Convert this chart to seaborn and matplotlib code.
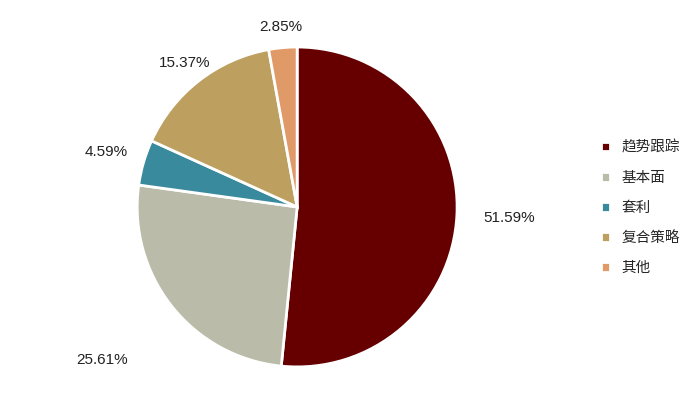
import numpy as np
import matplotlib
matplotlib.use("Agg")
import matplotlib.pyplot as plt
import seaborn as sns

sns.set_style("white")
plt.rcParams['font.family'] = ['Liberation Sans', 'Noto Sans CJK SC', 'DejaVu Sans']

categories = ["趋势跟踪", "基本面", "套利", "复合策略", "其他"]
shares = [51.59, 25.61, 4.59, 15.37, 2.85]
colors = ["#660000", "#BBBBA9", "#3A8A9E", "#BDA060", "#E09A68"]
label_dist = [1.33, 1.55, 1.24, 1.14, 1.13]

fig = plt.figure(figsize=(7, 4.16), dpi=100)
ax = fig.add_axes([0.196, 0.118, 0.457, 0.769])
wedges, _ = ax.pie(shares, colors=colors, startangle=90, counterclock=False,
                   wedgeprops=dict(edgecolor="white", linewidth=2))
ax.set_xlim(-1, 1)
ax.set_ylim(-1, 1)
ax.set_aspect("equal")
ax.axis("off")

for w, v, d in zip(wedges, shares, label_dist):
    ang = np.deg2rad((w.theta1 + w.theta2) / 2)
    ax.text(d * np.cos(ang), d * np.sin(ang), f"{v:.2f}%", ha="center", va="center",
            fontsize=11, color="#222222", clip_on=False)

fig.legend(wedges, categories, loc="center left", bbox_to_anchor=(0.84, 0.5),
           frameon=False, fontsize=10.5, handlelength=0.6, handleheight=0.6,
           labelspacing=1.1)

plt.savefig("out.png", dpi=100)
